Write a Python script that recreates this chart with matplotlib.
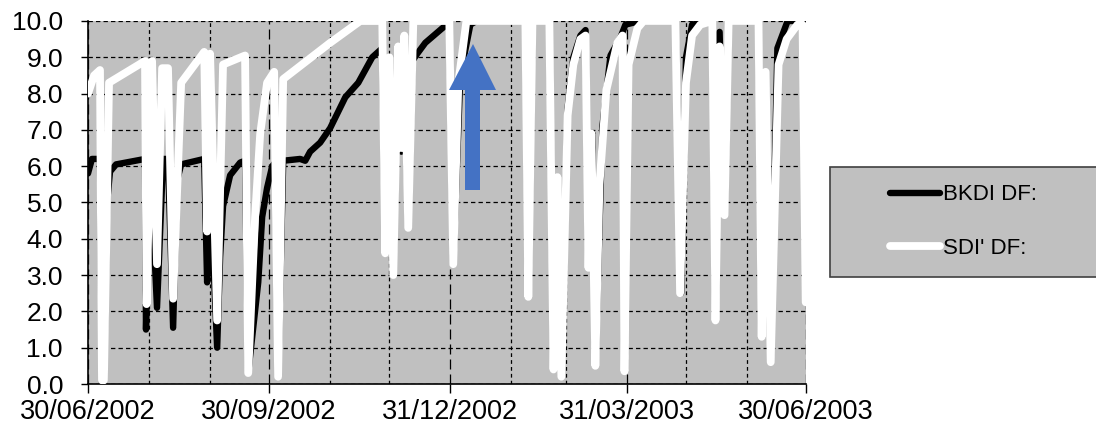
import datetime
import matplotlib
matplotlib.use('Agg')
import matplotlib.pyplot as plt
import matplotlib.dates as mdates
from matplotlib.patches import Rectangle, Polygon

plt.rcParams['font.family'] = ['Liberation Sans', 'DejaVu Sans']

# ---------------- data (days after 30/06/2002, values) ----------------
start_date = datetime.date(2002, 6, 30)
end_date = datetime.date(2003, 6, 30)

bkdi_days = [0, 2.0, 6.1, 7.1, 8.1, 9.7, 11.2, 14.3, 29.0, 29.5, 31.6, 35.1, 38.2, 40.7, 43.3,
             45.3, 47.4, 59.1, 60.6, 62.1, 65.7, 67.2, 68.7, 72.3, 77.4, 79.9, 81.5, 86.6, 88.6,
             91.1, 93.7, 95.2, 96.7, 99.3, 107.9, 110.5, 113.0, 118.1, 123.2, 130.9, 137.5, 144.6,
             149.7, 151.2, 153.3, 155.3, 157.8, 159.4, 160.9, 162.9, 165.0, 167.5, 171.6, 180.2,
             183.8, 185.8, 189.4, 194.5, 197.6, 222.5, 224.0, 226.1, 234.7, 236.8, 238.8, 240.8,
             244.0, 246.9, 250.5, 253.1, 254.6, 256.6, 258.1, 261.7, 265.8, 270.9, 273.4, 281.0,
             298.8, 301.7, 304.2, 307.3, 317.6, 319.2, 321.3, 323.8, 325.9, 341.1, 342.7, 344.7,
             347.3, 350.7, 355.9, 364.1, 365.1]
bkdi_vals = [5.8, 6.2, 6.2, 0.05, 0.05, 5.0, 5.85, 6.05, 6.2, 1.5, 6.2, 2.1, 6.2, 6.2, 1.55,
             5.6, 6.05, 6.2, 2.8, 5.5, 1.0, 3.5, 4.9, 5.75, 6.1, 6.15, 0.3, 2.8, 4.6,
             5.4, 6.0, 6.1, 0.2, 6.15, 6.2, 6.15, 6.4, 6.65, 7.05, 7.9, 8.3, 9.0,
             9.25, 3.6, 8.9, 3.0, 9.1, 6.4, 9.2, 4.3, 8.9, 9.1, 9.4, 9.8,
             9.95, 3.3, 8.5, 9.9, 10.0, 10.0, 2.4, 10.0, 10.0, 0.4, 5.7, 0.2,
             7.6, 9.0, 9.6, 9.75, 3.2, 6.9, 0.5, 7.1, 9.05, 9.55, 9.9, 10.0,
             10.0, 2.5, 9.0, 9.9, 10.0, 1.75, 9.7, 4.65, 10.0, 10.0, 1.3, 8.45,
             0.6, 9.25, 10.0, 10.0, 2.25]

sdi_days = [0, 3.1, 6.1, 7.1, 8.1, 10.7, 29.0, 29.8, 32.6, 35.1, 37.7, 40.7, 43.3, 47.4, 59.1,
            60.6, 62.1, 65.7, 68.7, 79.9, 81.5, 85.0, 87.6, 91.1, 94.7, 96.7, 99.3, 123.2, 138.5,
            149.7, 151.2, 153.3, 155.3, 157.8, 159.4, 160.9, 162.9, 165.5, 183.8, 185.8, 188.4,
            192.5, 222.5, 224.0, 226.1, 234.7, 236.8, 238.8, 240.8, 244.0, 246.9, 250.5, 253.1,
            254.6, 256.1, 258.1, 260.2, 263.7, 269.3, 271.9, 272.9, 275.0, 279.5, 282.6, 298.8,
            301.2, 304.2, 307.3, 311.5, 317.6, 319.2, 321.3, 323.8, 325.9, 341.1, 342.7, 344.7,
            347.3, 351.3, 355.4, 360.9, 363.5, 365.1]
sdi_vals = [8.0, 8.5, 8.65, 0.1, 0.1, 8.3, 8.9, 2.2, 8.9, 3.3, 8.7, 8.7, 2.35, 8.3, 9.15,
            4.2, 9.1, 1.75, 8.8, 9.05, 0.3, 4.6, 6.9, 8.3, 8.6, 0.2, 8.4, 9.4, 10.0,
            10.0, 3.6, 9.0, 3.0, 9.3, 6.5, 9.6, 4.3, 10.0, 10.0, 3.3, 8.3,
            10.0, 10.0, 2.4, 10.0, 10.0, 0.4, 5.7, 0.2, 7.4, 8.8, 9.5, 9.6,
            3.2, 6.9, 0.5, 5.5, 8.1, 9.4, 9.6, 0.35, 8.8, 9.8, 10.0, 10.0,
            2.5, 8.3, 9.6, 9.9, 10.0, 1.75, 9.3, 4.65, 10.0, 10.0, 1.3, 8.6,
            0.6, 8.8, 9.5, 9.9, 9.9, 2.25]

series_labels = ['BKDI DF:', "SDI' DF:"]

major_dates = [datetime.date(2002, 6, 30), datetime.date(2002, 9, 30), datetime.date(2002, 12, 31),
               datetime.date(2003, 3, 31), datetime.date(2003, 6, 30)]
major_labels = ['30/06/2002', '30/09/2002', '31/12/2002', '31/03/2003', '30/06/2003']
minor_dates = [datetime.date(2002, 7, 31), datetime.date(2002, 8, 31), datetime.date(2002, 10, 31),
               datetime.date(2002, 11, 30), datetime.date(2003, 1, 31), datetime.date(2003, 2, 28),
               datetime.date(2003, 4, 30), datetime.date(2003, 5, 31)]
y_ticks = [0, 1, 2, 3, 4, 5, 6, 7, 8, 9, 10]

# ---------------- figure ----------------
W, H = 1096, 430
fig = plt.figure(figsize=(W / 100, H / 100), dpi=100)
ax = fig.add_axes([88 / W, 1 - 384 / H, (805.5 - 88) / W, (384 - 21) / H])

t0 = mdates.date2num(start_date)
xb = [t0 + d for d in bkdi_days]
xs = [t0 + d for d in sdi_days]

l1, = ax.plot(xb, bkdi_vals, color='black', lw=4.6, solid_joinstyle='round',
              solid_capstyle='round', label=series_labels[0], zorder=3)
l2, = ax.plot(xs, sdi_vals, color='white', lw=5.6, solid_joinstyle='round',
              solid_capstyle='round', label=series_labels[1], zorder=4)

ax.set_facecolor('#c0c0c0')
ax.set_xlim(mdates.date2num(start_date), mdates.date2num(end_date))
ax.set_ylim(0, 10)

ax.set_xticks([mdates.date2num(d) for d in major_dates])
ax.set_xticklabels(major_labels)
ax.set_xticks([mdates.date2num(d) for d in minor_dates], minor=True)
ax.set_yticks(y_ticks)
ax.set_yticklabels(['%.1f' % v for v in y_ticks])

ax.tick_params(axis='x', which='major', length=6.5, width=1, direction='out', pad=4,
               labelsize=19.5, colors='black')
ax.tick_params(axis='x', which='minor', length=0)
ax.tick_params(axis='y', which='major', length=5, width=1, direction='out', pad=13,
               labelsize=19)

ax.set_axisbelow(True)
ax.grid(axis='y', which='major', color='black', lw=0.9, linestyle=(0, (3.5, 2.5)))
ax.grid(axis='x', which='major', color='black', lw=0.9, linestyle=(0, (8, 4)))
ax.grid(axis='x', which='minor', color='black', lw=0.9, linestyle=(0, (3, 2.5)))

for s in ['top', 'right']:
    ax.spines[s].set_visible(False)
for s in ['left', 'bottom']:
    ax.spines[s].set_color('black')
    ax.spines[s].set_linewidth(1.2)

# ---------------- legend ----------------
fig.add_artist(Rectangle((830 / W, 1 - 277 / H), 300 / W, 110 / H, transform=fig.transFigure,
                         facecolor='#c0c0c0', edgecolor='#404040', lw=1.2, zorder=1))
fig.legend([l1, l2], series_labels, loc='center left', bbox_to_anchor=(890 / W, 1 - 221.5 / H),
           frameon=False, fontsize=16, handlelength=2.25, handletextpad=0.12,
           borderpad=0, borderaxespad=0, labelspacing=1.45)

# ---------------- blue arrow annotation ----------------
arrow_px = [(465, 190), (480, 190), (480, 90), (496, 90), (473, 44), (449, 90), (465, 90)]
fig.add_artist(Polygon([(x / W, 1 - y / H) for x, y in arrow_px], closed=True,
                       transform=fig.transFigure, facecolor='#4472C4', edgecolor='none',
                       zorder=10))

fig.savefig('out.png', dpi=100, facecolor='white')
